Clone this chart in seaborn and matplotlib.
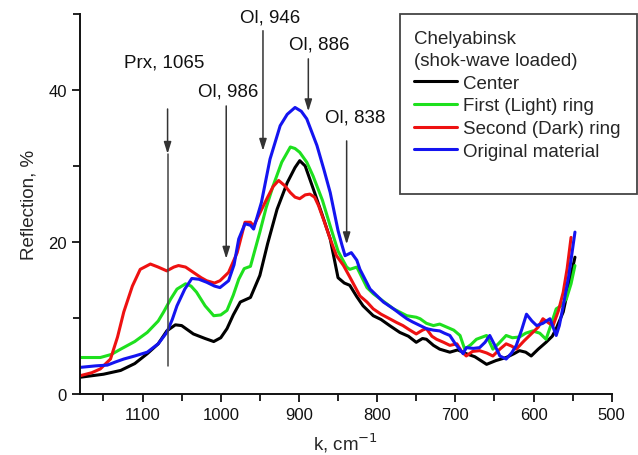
import numpy as np
import pandas as pd
import matplotlib
matplotlib.use("Agg")
import matplotlib.pyplot as plt
import matplotlib.patches as mpatches
from matplotlib.ticker import MultipleLocator
import seaborn as sns

# --- data ---
center_k = [1180, 1150, 1128, 1110, 1094, 1080, 1069, 1058, 1050, 1035, 1020, 1009, 1000, 992, 984,
            975, 962, 950, 940, 928, 915, 905, 899, 892, 880, 870, 860, 850, 842, 835, 826, 818, 805,
            795, 784, 771, 760, 750, 742, 737, 728, 720, 707, 697, 686, 675, 660, 648, 635, 625, 618,
            610, 603, 594, 584, 576, 571, 562, 554, 547]
center_r = [2.2, 2.6, 3.1, 4.0, 5.3, 6.6, 8.3, 9.1, 9.0, 7.9, 7.3, 6.9, 7.4, 8.6, 10.4,
            12.1, 12.7, 15.6, 19.8, 24.3, 27.8, 29.8, 30.7, 30.0, 26.5, 23.5, 20.4, 15.3, 14.6, 14.3, 12.8, 11.6, 10.3,
            9.8, 9.0, 8.1, 7.6, 6.8, 7.3, 7.2, 6.4, 5.9, 5.5, 5.8, 5.3, 4.9, 3.9, 4.4, 4.8, 5.3, 5.7,
            5.5, 5.0, 5.9, 6.8, 7.6, 8.6, 10.8, 14.7, 18.0]

light_k = [1180, 1154, 1140, 1128, 1110, 1094, 1080, 1073, 1064, 1056, 1045, 1038, 1031, 1020, 1009,
           1000, 992, 984, 977, 970, 962, 950, 942, 933, 922, 911, 905, 899, 890, 882, 870, 860, 850,
           839, 835, 826, 813, 805, 796, 779, 762, 750, 745, 737, 728, 720, 711, 702, 694, 688, 680,
           673, 660, 652, 645, 635, 627, 618, 610, 601, 592, 584, 578, 571, 565, 558, 552, 547]
light_r = [4.8, 4.8, 5.2, 5.9, 6.9, 8.1, 9.6, 10.8, 12.5, 13.8, 14.5, 14.2, 13.4, 11.6, 10.3,
           10.4, 11.0, 13.0, 15.1, 16.5, 16.8, 21.3, 24.5, 27.4, 30.5, 32.5, 32.3, 31.8, 30.5, 28.7, 25.5, 22.1, 18.8,
           16.7, 16.4, 16.7, 14.0, 13.2, 12.5, 11.2, 10.3, 10.1, 9.9, 9.3, 9.0, 9.2, 8.8, 8.4, 7.7, 5.9, 6.5,
           7.2, 7.7, 5.9, 6.6, 7.7, 7.4, 7.5, 8.0, 8.3, 8.0, 7.2, 9.0, 11.2, 11.6, 12.5, 14.5, 16.9]

dark_k = [1180, 1165, 1154, 1141, 1132, 1124, 1113, 1103, 1090, 1080, 1069, 1060, 1054, 1045, 1035,
          1025, 1018, 1008, 1001, 990, 979, 969, 962, 958, 950, 941, 933, 926, 918, 911, 905, 899,
          892, 886, 880, 875, 868, 860, 852, 843, 835, 822, 813, 805, 795, 784, 775, 767, 758, 750,
          742, 737, 730, 724, 715, 707, 698, 692, 686, 678, 669, 660, 652, 643, 635, 628, 622, 612,
          601, 594, 588, 580, 575, 568, 562, 557, 552]
dark_r = [2.4, 2.8, 3.3, 4.6, 7.5, 10.8, 14.2, 16.4, 17.1, 16.7, 16.2, 16.7, 16.9, 16.7, 16.0,
          15.3, 14.9, 14.6, 14.9, 16.0, 18.6, 22.6, 22.6, 22.1, 23.8, 25.7, 27.3, 28.1, 27.4, 26.5, 25.9, 25.7,
          26.2, 26.3, 25.9, 24.8, 22.8, 20.4, 18.2, 16.9, 15.4, 12.9, 12.1, 11.2, 10.5, 9.9, 9.4, 9.0, 8.4, 7.9,
          8.4, 8.6, 7.6, 7.2, 6.8, 6.4, 6.6, 5.6, 5.0, 5.6, 5.7, 5.4, 5.0, 5.9, 6.6, 6.3, 5.9, 7.0,
          8.1, 8.8, 9.9, 9.3, 9.0, 11.0, 13.4, 16.5, 20.6]

orig_k = [1180, 1160, 1145, 1135, 1124, 1110, 1094, 1080, 1069, 1062, 1056, 1046, 1037, 1028, 1018,
          1008, 1001, 990, 983, 977, 969, 962, 958, 948, 937, 924, 915, 905, 897, 890, 877, 868, 860,
          850, 845, 841, 833, 826, 822, 815, 809, 800, 792, 779, 770, 762, 755, 745, 737, 728, 720,
          714, 707, 700, 690, 686, 677, 669, 662, 656, 650, 643, 635, 628, 622, 615, 609, 602, 596,
          588, 579, 575, 571, 567, 562, 555, 547]
orig_r = [3.5, 3.7, 3.8, 4.2, 4.6, 5.0, 5.5, 6.6, 8.1, 9.8, 11.6, 13.8, 15.2, 15.1, 14.7,
          14.2, 14.0, 14.9, 17.0, 20.4, 22.4, 22.2, 21.7, 25.2, 30.9, 35.3, 36.8, 37.7, 37.2, 36.2, 32.7, 29.5, 26.5,
          21.5, 19.6, 18.2, 18.6, 17.6, 16.4, 15.0, 13.8, 12.9, 12.1, 11.2, 10.5, 9.9, 9.5, 9.0, 8.6, 8.4, 8.3,
          8.0, 7.7, 6.6, 5.3, 6.1, 6.0, 6.1, 6.8, 7.7, 6.5, 5.0, 4.6, 5.4, 6.4, 8.5, 10.5, 9.6, 9.0,
          9.3, 9.9, 8.8, 7.7, 9.0, 11.6, 15.5, 21.3]

sample_names = ["Center", "First (Light) ring", "Second (Dark) ring", "Original material"]
sample_colors = ["#000000", "#1ee01e", "#ee1111", "#1414f0"]

# band assignments: label, line position, text position, line start/end
band_labels = ["Prx, 1065", "Ol, 986", "Ol, 946", "Ol, 886", "Ol, 838"]
band_k = [1068, 993, 946, 888, 839]
band_top = [37.5, 37.9, 47.8, 44.1, 33.3]
band_tip = [31.6, 17.8, 32.0, 37.2, 19.7]
label_k = [1072, 990, 937, 874, 828]
label_r = [43.7, 39.9, 49.6, 46.0, 36.4]

frames = []
for name, k, r in zip(sample_names,
                      [center_k, light_k, dark_k, orig_k],
                      [center_r, light_r, dark_r, orig_r]):
    frames.append(pd.DataFrame({"k": k, "R": r, "sample": name}))
df = pd.concat(frames, ignore_index=True)

sns.set_style("ticks")
plt.rcParams["font.family"] = ["Liberation Sans", "DejaVu Sans"]

fig = plt.figure(figsize=(6.38, 4.56), dpi=100)
ax = fig.add_axes([0.1254, 0.1338, 0.8334, 0.8333])

sns.lineplot(data=df, x="k", y="R", hue="sample", hue_order=sample_names,
             palette=sample_colors, sort=False, estimator=None, linewidth=2.2, ax=ax)

ax.set_xlim(1180, 500)
ax.set_ylim(0, 50)
ax.xaxis.set_major_locator(MultipleLocator(100))
ax.xaxis.set_minor_locator(MultipleLocator(50))
ax.yaxis.set_major_locator(MultipleLocator(20))
ax.yaxis.set_minor_locator(MultipleLocator(10))
ax.tick_params(which="both", direction="out", width=1.3, colors="#111111", labelsize=12)
ax.tick_params(which="major", length=6)
ax.tick_params(which="minor", length=5)
sns.despine(ax=ax)
for side in ["left", "bottom"]:
    ax.spines[side].set_linewidth(1.4)
    ax.spines[side].set_color("#111111")

ax.set_xlabel("k, cm$^{-1}$", fontsize=13.5, labelpad=6)
ax.set_ylabel("Reflection, %", fontsize=13.5, labelpad=8)

# band markers
for i in range(len(band_labels)):
    ax.annotate("", xy=(band_k[i], band_tip[i]), xytext=(band_k[i], band_top[i]),
                arrowprops=dict(arrowstyle="-|>,head_length=0.7,head_width=0.22",
                                color="#333333", lw=1.1, shrinkA=0, shrinkB=0),
                annotation_clip=False)
    ax.text(label_k[i], label_r[i], band_labels[i], ha="center", va="center",
            fontsize=13.5, color="#111111", clip_on=False)
# Prx line continues below the arrow head
ax.plot([band_k[0], band_k[0]], [band_tip[0], 3.7], color="#444444", lw=1.1)

# legend box
handles, labels = ax.get_legend_handles_labels()
ax.get_legend().remove()
leg = fig.legend(handles, labels, title="Chelyabinsk\n(shok-wave loaded)",
                 loc="upper left", bbox_to_anchor=(414 / 638, 1 - 31 / 456),
                 frameon=False, fontsize=13.5, title_fontsize=13.5, alignment="left",
                 borderpad=0, borderaxespad=0, labelspacing=0.3, handlelength=2.3,
                 handletextpad=0.3)
leg.get_title().set_linespacing(1.38)
fig.add_artist(mpatches.Rectangle((400 / 638, 1 - 195 / 456), 237 / 638, 180 / 456,
                                  transform=fig.transFigure, fill=False,
                                  edgecolor="#444444", lw=1.3))

plt.savefig("out.png", dpi=100)
